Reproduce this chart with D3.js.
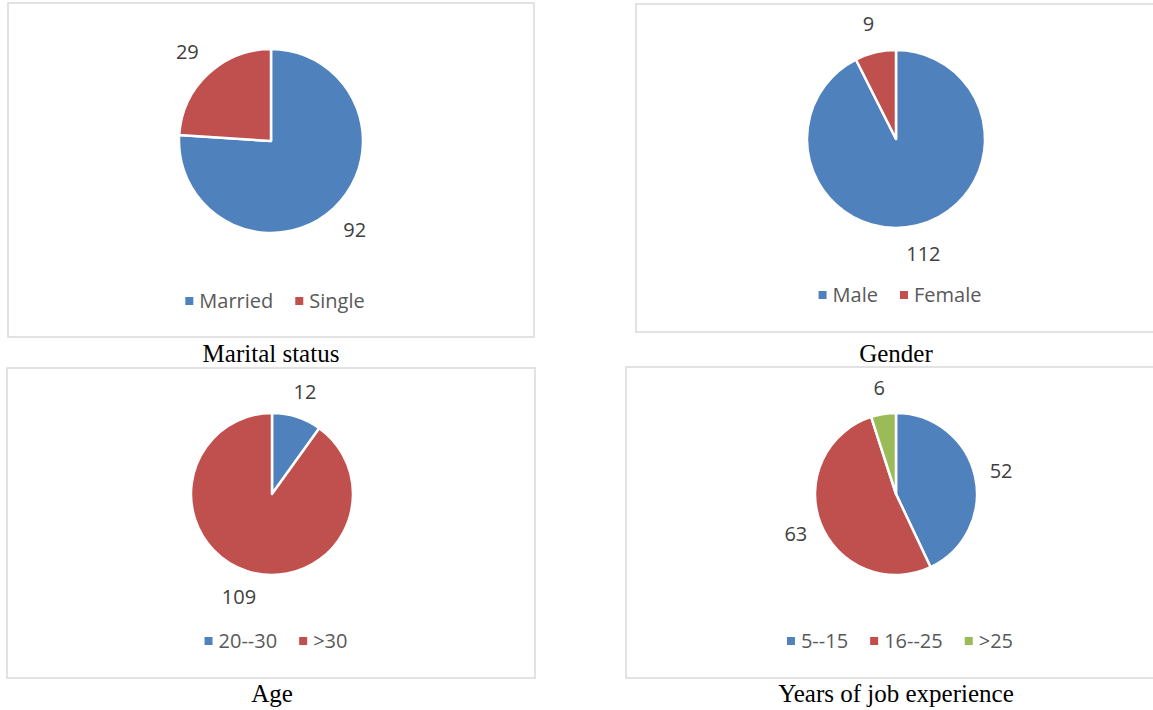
<!DOCTYPE html>
<html>
<head>
<meta charset="utf-8">
<script src="https://cdn.jsdelivr.net/npm/d3@7"></script>
<style>
  body { margin: 0; background: #fff; }
  svg { display: block; }
</style>
</head>
<body>
<div id="chart"></div>
<script>
// Data
const maritalLabels = ["Married", "Single"];
const maritalValues = [92, 29];
const genderLabels = ["Male", "Female"];
const genderValues = [112, 9];
const ageLabels = ["20--30", ">30"];
const ageValues = [12, 109];
const experienceLabels = ["5--15", "16--25", ">25"];
const experienceValues = [52, 63, 6];

const WIDTH = 1153;
const HEIGHT = 710;

const colors = ["#4F81BD", "#C0504D", "#9BBB59"];

// Layout of the four panels
const panels = [
  { title: "Marital status", labels: maritalLabels, values: maritalValues,
    box: [8, 3, 534, 337], cx: 271, cy: 141, r: 92, legendY: 301, captionY: 362 },
  { title: "Gender", labels: genderLabels, values: genderValues,
    box: [636, 4, 1165, 332], cx: 896, cy: 139, r: 89, legendY: 295, captionY: 362 },
  { title: "Age", labels: ageLabels, values: ageValues,
    box: [7, 368, 535, 678], cx: 272, cy: 494, r: 81, legendY: 641, captionY: 702 },
  { title: "Years of job experience", labels: experienceLabels, values: experienceValues,
    box: [626, 367, 1165, 678], cx: 896, cy: 494, r: 81, legendY: 641, captionY: 702 }
];

const svg = d3
  .select("#chart")
  .append("svg")
  .attr("width", WIDTH)
  .attr("height", HEIGHT);

const pie = d3.pie().sort(null);

panels.forEach((p) => {
  const color = d3.scaleOrdinal().domain(p.labels).range(colors);

  // Chart frame
  svg
    .append("rect")
    .attr("x", p.box[0])
    .attr("y", p.box[1])
    .attr("width", p.box[2] - p.box[0])
    .attr("height", p.box[3] - p.box[1])
    .attr("fill", "#fff")
    .attr("stroke", "#d9d9d9")
    .attr("stroke-width", 1.5);

  const g = svg.append("g").attr("transform", "translate(" + p.cx + "," + p.cy + ")");

  const arcs = pie(p.values);
  const arc = d3.arc().innerRadius(0).outerRadius(p.r);
  const labelArc = d3.arc().innerRadius(p.r * 1.33).outerRadius(p.r * 1.33);

  g.selectAll("path")
    .data(arcs)
    .enter()
    .append("path")
    .attr("d", arc)
    .attr("fill", (d, i) => color(p.labels[i]))
    .attr("stroke", "#fff")
    .attr("stroke-width", 2.5)
    .attr("stroke-linejoin", "round");

  // Value labels
  g.selectAll("text")
    .data(arcs)
    .enter()
    .append("text")
    .attr("transform", (d) => "translate(" + labelArc.centroid(d) + ")")
    .attr("text-anchor", "middle")
    .attr("dy", "0.36em")
    .attr("font-family", "'Open Sans', sans-serif")
    .attr("font-size", 20)
    .attr("fill", "#404040")
    .text((d) => d.value);

  // Legend
  const leg = svg.append("g");
  let x = 0;
  p.labels.forEach((lab, i) => {
    const item = leg.append("g").attr("transform", "translate(" + x + ",0)");
    item
      .append("rect")
      .attr("x", 0)
      .attr("y", p.legendY - 4)
      .attr("width", 8)
      .attr("height", 8)
      .attr("fill", color(lab));
    const t = item
      .append("text")
      .attr("x", 14)
      .attr("y", p.legendY)
      .attr("dy", "0.36em")
      .attr("font-family", "'Open Sans', sans-serif")
      .attr("font-size", 20)
      .attr("fill", "#595959")
      .text(lab);
    x += 14 + t.node().getComputedTextLength() + 22;
  });
  const legW = x - 22;
  leg.attr("transform", "translate(" + (p.cx + 4 - legW / 2) + ",0)");

  // Caption under the frame
  svg
    .append("text")
    .attr("x", p.cx)
    .attr("y", p.captionY)
    .attr("text-anchor", "middle")
    .attr("font-family", "'Liberation Serif', 'Times New Roman', serif")
    .attr("font-size", 25)
    .attr("fill", "#000")
    .text(p.title);
});
</script>
</body>
</html>
